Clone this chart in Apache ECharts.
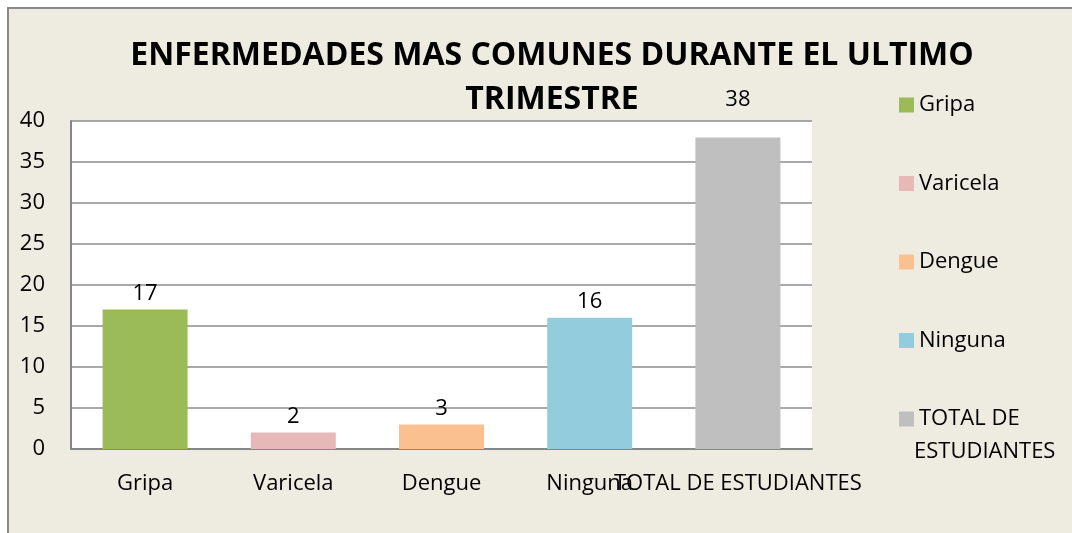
<!DOCTYPE html>
<html>
<head>
<meta charset="utf-8">
<script src="https://cdn.jsdelivr.net/npm/echarts@6/dist/echarts.min.js"></script>
<style>
  html, body { margin: 0; padding: 0; background: #ffffff; width: 1072px; height: 533px; overflow: hidden; }
  #bg { position: absolute; left: 7px; top: 7px; width: 1100px; height: 560px; background: #EEECE1; border-left: 2px solid #8a8a8a; border-top: 2px solid #8a8a8a; }
  #chart { position: absolute; left: 0; top: 0; width: 1072px; height: 533px; }
</style>
</head>
<body>
<div id="bg"></div>
<div id="chart"></div>
<script>
const titleText = 'ENFERMEDADES MAS COMUNES DURANTE EL ULTIMO\nTRIMESTRE';
const categories = ['Gripa', 'Varicela', 'Dengue', 'Ninguna', 'TOTAL DE ESTUDIANTES'];
const values = [17, 2, 3, 16, 38];
const colors = ['#9BBB59', '#E6B9B8', '#FAC090', '#93CDDD', '#BFBFBF'];
const yTicks = { min: 0, max: 40, interval: 5 };

const FONT = 'Open Sans';
const FS = 22;

const series = categories.map((name, i) => ({
  name: name,
  type: 'bar',
  stack: 'all',
  barWidth: 85,
  itemStyle: { color: colors[i] },
  label: {
    show: true,
    position: 'top',
    distance: 5,
    color: '#000',
    fontFamily: FONT,
    fontSize: FS,
    offset: i === 4 ? [0, -22] : [0, 0]
  },
  data: categories.map((c, j) => (j === i ? values[i] : '-'))
}));

const chart = echarts.init(document.getElementById('chart'), null, { renderer: 'canvas' });
chart.setOption({
  backgroundColor: 'transparent',
  animation: false,
  title: {
    text: titleText,
    left: 547,
    textAlign: 'center',
    top: 29,
    textStyle: { fontFamily: FONT, fontWeight: 'bold', fontSize: 32, color: '#000', lineHeight: 44 }
  },
  legend: {
    orient: 'vertical',
    left: 894,
    top: 85,
    itemWidth: 15,
    itemHeight: 15,
    itemGap: 48.5,
    icon: 'rect',
    data: categories,
    formatter: function (n) { return n === 'TOTAL DE ESTUDIANTES' ? 'TOTAL DE' : n; },
    textStyle: { fontFamily: FONT, fontSize: FS, color: '#000', lineHeight: 30 }
  },
  graphic: [{
    type: 'text',
    left: 914,
    top: 441,
    style: { text: 'ESTUDIANTES', font: FS + 'px "Open Sans"', fill: '#000' }
  }],
  grid: {
    left: 71, top: 121, right: 260, bottom: 84,
    show: true, backgroundColor: '#ffffff', borderWidth: 0
  },
  xAxis: {
    type: 'category',
    data: categories,
    axisLine: { show: true, lineStyle: { color: '#868686', width: 2 } },
    axisTick: { show: false },
    axisLabel: { interval: 0, hideOverlap: false, margin: 24, color: '#000', fontFamily: FONT, fontSize: FS }
  },
  yAxis: {
    type: 'value',
    min: yTicks.min, max: yTicks.max, interval: yTicks.interval,
    axisLine: { show: true, lineStyle: { color: '#868686', width: 2 } },
    axisTick: { show: false },
    splitLine: { show: true, lineStyle: { color: '#8c8c8c', width: 1.5 } },
    axisLabel: { margin: 26, color: '#000', fontFamily: FONT, fontSize: FS }
  },
  series: series
});
</script>
</body>
</html>
